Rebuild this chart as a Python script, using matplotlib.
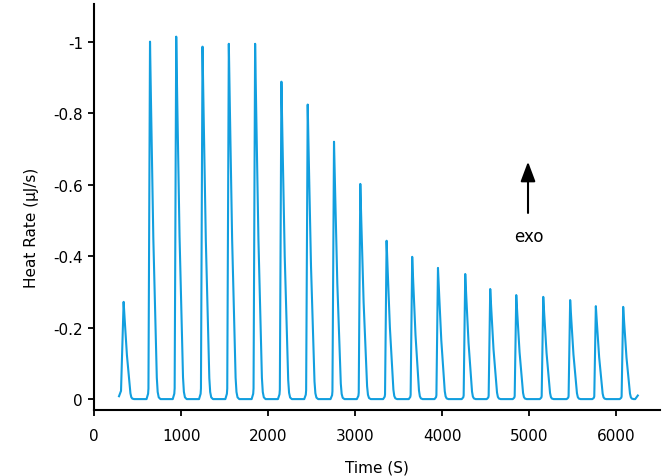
import numpy as np
import matplotlib
matplotlib.use("Agg")
import matplotlib.pyplot as plt

# ---- data ----
# injection peaks (time of maximum, s) and peak heat rate (uJ/s)
peak_time = [340, 643, 944, 1246, 1548, 1850, 2152, 2454, 2756, 3058,
             3360, 3654, 3950, 4263, 4550, 4849, 5159, 5468, 5763, 6077]
peak_value = [-0.272, -1.000, -1.014, -0.986, -0.994, -0.994, -0.888, -0.824,
              -0.720, -0.602, -0.443, -0.398, -0.367, -0.350, -0.308, -0.291,
              -0.286, -0.277, -0.260, -0.258]
# shape of one injection peak (offset from max in s, fraction of peak height)
shape_offset = [-40, -22, -18, 0, 12, 38, 60, 70, 78, 88, 100, 120]
shape_frac = [0.0, 0.015, 0.03, 1.0, 0.82, 0.45, 0.24, 0.15, 0.06, 0.02, 0.005, 0.0]
# start and end of the recorded trace
start_time = [287, 310]
start_value = [-0.008, -0.023]
end_time = [6215, 6245]
end_value = [0.0, -0.010]

x_ticks = [0, 1000, 2000, 3000, 4000, 5000, 6000]
y_ticks = [-1, -0.8, -0.6, -0.4, -0.2, 0]
y_ticklabels = ["-1", "-0.8", "-0.6", "-0.4", "-0.2", "0"]

# ---- build trace ----
t = list(start_time)
v = list(start_value)
for i, (pt, pv) in enumerate(zip(peak_time, peak_value)):
    for off, fr in zip(shape_offset, shape_frac):
        if i == 0 and off < 0:
            continue
        t.append(pt + off)
        v.append(pv * fr)
t += end_time
v += end_value

plt.rcParams['font.family'] = ['DejaVu Sans']

fig = plt.figure(figsize=(6.64, 4.77), dpi=100)
ax = fig.add_axes([0.1416, 0.138, 0.8524, 0.852])
ax.plot(t, v, color='#129fdf', lw=1.5, solid_joinstyle='round')

ax.set_xlim(0, 6500)
ax.set_ylim(0.031, -1.106)
ax.set_xticks(x_ticks)
ax.set_yticks(y_ticks)
ax.set_yticklabels(y_ticklabels)
ax.tick_params(direction='out', length=4.5, width=1.3, labelsize=11, color='black')
ax.tick_params(axis='x', pad=8)
for s in ['top', 'right']:
    ax.spines[s].set_visible(False)
for s in ['left', 'bottom']:
    ax.spines[s].set_linewidth(1.5)
ax.set_xlabel('Time (S)', fontsize=11, labelpad=12)
ax.set_ylabel('Heat Rate (µJ/s)', fontsize=11)
ax.yaxis.set_label_coords(-0.098, 0.45)

ax.annotate('', xy=(4984, -0.672), xytext=(4984, -0.513),
            arrowprops=dict(arrowstyle='-|>,head_width=0.45,head_length=1.2',
                            color='black', lw=1.5))
ax.text(4990, -0.457, 'exo', ha='center', va='center', fontsize=12)

fig.savefig('out.png', dpi=100)
